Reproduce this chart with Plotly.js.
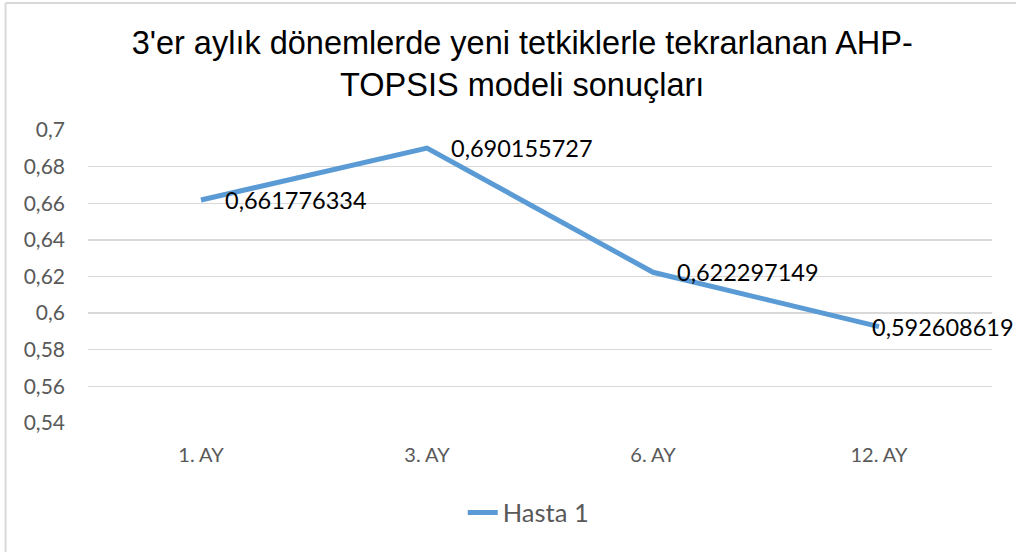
<!DOCTYPE html>
<html>
<head>
<meta charset="utf-8">
<script src="https://cdn.plot.ly/plotly-3.0.1.min.js"></script>
<style>
  html, body { margin: 0; padding: 0; background: #fff; }
  #chart { width: 1016px; height: 552px; }
</style>
</head>
<body>
<div id="chart"></div>
<script>
const categories = ["1. AY", "3. AY", "6. AY", "12. AY"];
const hasta1 = [0.661776334, 0.690155727, 0.622297149, 0.592608619];
const labels = ["0,661776334", "0,690155727", "0,622297149", "0,592608619"];
const seriesName = "Hasta 1";
const titleText = "3'er aylık dönemlerde yeni tetkiklerle tekrarlanan AHP-<br>TOPSIS modeli sonuçları";

const labelShift = [22, 22, 22, -9];

const trace = {
  x: categories,
  y: hasta1,
  type: "scatter",
  mode: "lines",
  name: seriesName,
  line: { color: "#5B9BD5", width: 5 },
  hoverinfo: "skip"
};

const annotations = categories.map((c, i) => ({
  x: c, y: hasta1[i], xref: "x", yref: "y",
  text: labels[i], showarrow: false,
  xanchor: "left", yanchor: "middle",
  xshift: labelShift[i], yshift: 0,
  font: { family: "Lato, 'Open Sans', sans-serif", size: 23.5, color: "#000" }
}));

const layout = {
  width: 1016, height: 552,
  margin: { l: 88, r: 24, t: 130, b: 129 },
  paper_bgcolor: "#fff", plot_bgcolor: "#fff",
  separators: ", ",
  title: {
    text: titleText,
    font: { family: "'Liberation Sans', Arial, sans-serif", size: 32.5, color: "#000" },
    x: 0.514, xanchor: "center", y: 0.902, yanchor: "middle"
  },
  xaxis: {
    type: "category",
    range: [-0.5, 3.5],
    showgrid: false, zeroline: false, showline: false,
    ticks: "", ticklabelstandoff: 18,
    tickfont: { family: "Lato, 'Open Sans', sans-serif", size: 20, color: "#595959" }
  },
  yaxis: {
    range: [0.54, 0.70],
    dtick: 0.02, tick0: 0.54,
    showgrid: true, gridcolor: "#D9D9D9", gridwidth: 1.3,
    zeroline: false, showline: false,
    ticks: "", ticklabelstandoff: 22,
    tickfont: { family: "Lato, 'Open Sans', sans-serif", size: 21, color: "#595959" }
  },
  showlegend: true,
  legend: {
    orientation: "h", x: 0.487, xanchor: "center", y: -0.307, yanchor: "middle",
    font: { family: "Lato, 'Open Sans', sans-serif", size: 25.5, color: "#595959" }
  },
  annotations: annotations,
  shapes: [
    { type: "line", xref: "paper", yref: "paper", x0: -0.0912, x1: -0.0912, y0: -0.5, y1: 1.4334,
      line: { color: "#D9D9D9", width: 2 } },
    { type: "line", xref: "paper", yref: "paper", x0: -0.0912, x1: 1.1, y0: 1.4334, y1: 1.4334,
      line: { color: "#D9D9D9", width: 2 } }
  ]
};

Plotly.newPlot("chart", [trace], layout, { displayModeBar: false, staticPlot: true });
</script>
</body>
</html>
